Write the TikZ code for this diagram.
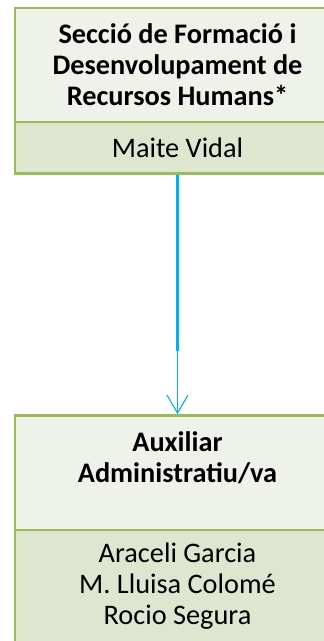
\documentclass[tikz,border=0pt]{standalone}
\usepackage{fontspec}
\setmainfont{Carlito}
\usetikzlibrary{arrows.meta}
\definecolor{boxborder}{HTML}{9BBB59}
\definecolor{headfill}{HTML}{EFF2E9}
\definecolor{namefill}{HTML}{DEE6D0}
\definecolor{linkblue}{HTML}{00B0F0}
\begin{document}
\begin{tikzpicture}[x=1pt,y=-1pt,
  box/.style={draw=boxborder, line width=2.7pt, minimum width=325.3pt, inner sep=0pt, align=center, font=\fontsize{28.3}{31}\selectfont},
  headbox/.style={box, fill=headfill, font=\fontsize{28.3}{31}\selectfont\bfseries},
  namebox/.style={box, fill=namefill},
  thickline/.style={draw=linkblue, line width=3.3pt},
  thinarrow/.style={draw=linkblue, line width=1.3pt, -{Straight Barb[length=18pt, width=21pt, line width=1.1pt]}}]
\useasboundingbox (0,0) rectangle (324,641);
\clip (0,0) rectangle (324,641);
\node[headbox, minimum height=114pt] (sec) at (177.5,65) {Secció de Formació i\\Desenvolupament de\\Recursos Humans*};
\node[namebox, minimum height=51.3pt] (mv) at (177.5,147.65) {Maite Vidal};
\node[headbox, minimum height=114.5pt] (aux) at (177.5,472.75) {Auxiliar\\Administratiu/va\\\mbox{}};
\node[namebox, minimum height=112pt] (ppl) at (177.5,586) {Araceli Garcia\\M. Lluisa Colomé\\Rocio Segura};
\coordinate (mid) at (177.5,350.5);
\draw[thickline] (mv.south) -- (mid);
\draw[thinarrow] (mid) -- (aux.north);
\end{tikzpicture}
\end{document}
